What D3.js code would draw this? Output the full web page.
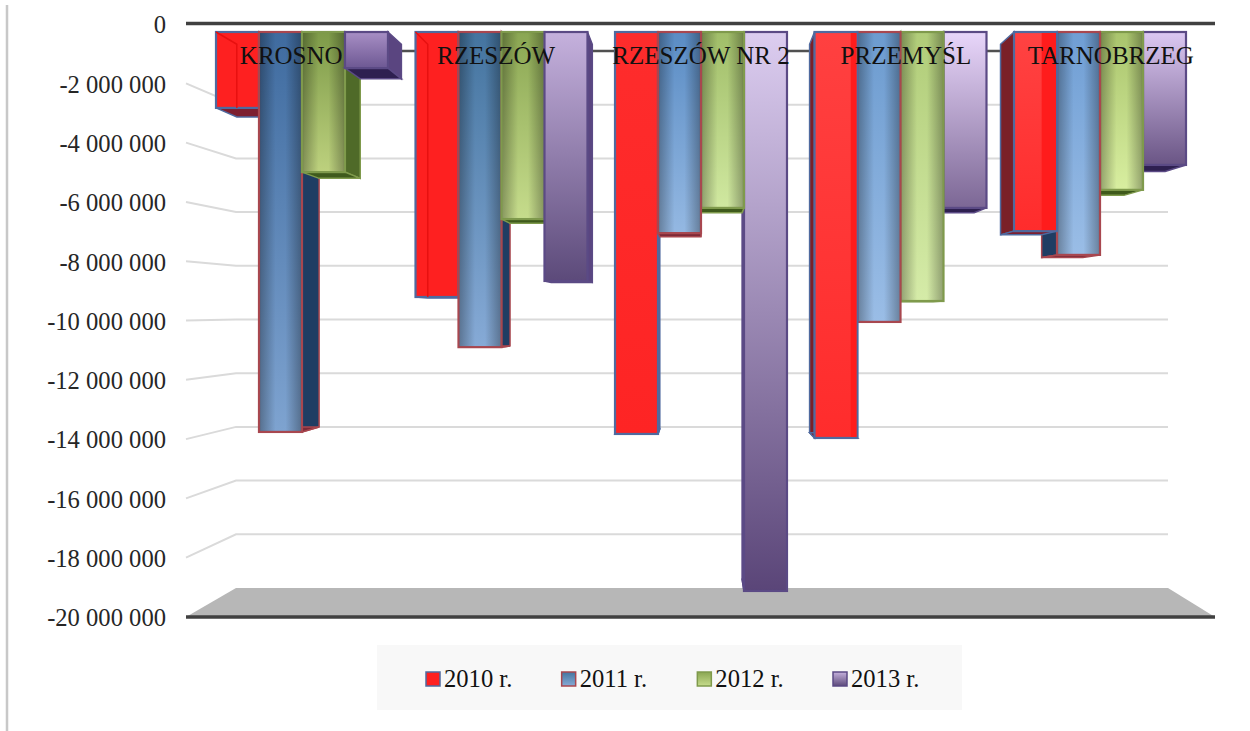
<!DOCTYPE html>
<html>
<head>
<meta charset="utf-8">
<script src="https://cdnjs.cloudflare.com/ajax/libs/d3/7.8.5/d3.min.js"></script>
<style>
  html, body { margin: 0; padding: 0; background: #fff; }
  text { font-family: "Liberation Serif", serif; }
</style>
</head>
<body>
<div id="chart"></div>
<script>
var svgWidth = 1250;
var svgHeight = 731;

// values
var categories = ["KROSNO", "RZESZÓW", "RZESZÓW NR 2", "PRZEMYŚL", "TARNOBRZEG"];
var seriesNames = ["2010 r.", "2011 r.", "2012 r.", "2013 r."];
var values2010 = [-2650000, -9250000, -14030000, -14170000, -6950000];
var values2011 = [-13960000, -11000000, -7020000, -10120000, -7780000];
var values2012 = [-4890000, -6530000, -6140000, -9390000, -5510000];
var values2013 = [-1260000, -8690000, -19510000, -6140000, -4640000];
var allValues = [values2010, values2011, values2012, values2013];
var tickValues = [0, -2000000, -4000000, -6000000, -8000000, -10000000, -12000000, -14000000, -16000000, -18000000, -20000000];

// colours per series, one entry per group, for the top and bottom of the bar
var topColors = [
  ["#fe2020", "#fe2020", "#fe2c2c", "#ff4040", "#ff4242"],
  ["#3f6b9f", "#44749f", "#5a8cc4", "#6c9bcf", "#6f9ed4"],
  ["#7d9a48", "#8aa652", "#a0bd68", "#b0cc78", "#a9c46c"],
  ["#a88fc5", "#c5b1dd", "#dccdf0", "#e8d6fa", "#dcc8f2"]
];
var bottomColors = [
  ["#fe2020", "#fe2020", "#fe2424", "#ff2c2c", "#ff2c2c"],
  ["#7ea3d0", "#86aad6", "#94b8e2", "#9abde6", "#9abde6"],
  ["#bdd17e", "#c6dc8c", "#d0e8a0", "#d5eba8", "#d8eea0"],
  ["#6d5893", "#5c4a7a", "#5a4578", "#7c6795", "#6a5585"]
];
var strokeColors = ["#4f6a9f", "#a8474f", "#7f9a4c", "#5b4a85"];
var sideColors = ["#7a2028", "#1f3d63", "#4f6a28", "#5a4580"];
var floorColors = ["#7d1f30", "#7d2a38", "#3f5a1c", "#2e2050"];

// the 3D look: everything recedes toward one vanishing point
var vanish = { x: 700, y: 318 };
var barDepth = 0.043;
function back(x, y) {
  return [x + (vanish.x - x) * barDepth, y + (vanish.y - y) * barDepth];
}

var svg = d3.select("#chart").append("svg")
  .attr("width", svgWidth)
  .attr("height", svgHeight)
  .style("display", "block");
var defs = svg.append("defs");

// front plane (labels), back wall (gridlines), bars sit in between
var yFront = d3.scaleLinear().domain([0, -20000000]).range([24, 617]);
var yBack = d3.scaleLinear().domain([0, -20000000]).range([51, 588]);
var yBar = d3.scaleLinear().domain([0, -20000000]).range([32, 605]);

var xGroup = d3.scaleBand().domain(categories).range([216, 1186]).paddingInner(0.138);
var xSeries = d3.scaleBand().domain(seriesNames).range([0, xGroup.bandwidth()]);

// frame line on the far left
svg.append("line")
  .attr("x1", 7).attr("x2", 7)
  .attr("y1", 5).attr("y2", 731)
  .attr("stroke", "#c8c8c8")
  .attr("stroke-width", 2.5);

// floor
svg.append("polygon")
  .attr("points", [[186, yFront(-20000000)], [236, yBack(-20000000)], [1168, yBack(-20000000)], [1215, yFront(-20000000)]].join(" "))
  .attr("fill", "#b7b7b7");

// gridlines, with the short run down the left wall
svg.append("g").selectAll("polyline")
  .data(tickValues.slice(1, -1))
  .enter()
  .append("polyline")
  .attr("points", d => [[186, yFront(d)], [236, yBack(d)], [1168, yBack(d)]].join(" "))
  .attr("fill", "none")
  .attr("stroke", "#dadada")
  .attr("stroke-width", 2);

// zero line on the back wall
svg.append("line")
  .attr("x1", 236).attr("x2", 1168)
  .attr("y1", yBack(0)).attr("y2", yBack(0))
  .attr("stroke", "#505050")
  .attr("stroke-width", 2.5);

svg.append("line")
  .attr("x1", 186).attr("x2", 1215)
  .attr("y1", yFront(0) - 0.5).attr("y2", yFront(0) - 0.5)
  .attr("stroke", "#404040")
  .attr("stroke-width", 3.5);
svg.append("line")
  .attr("x1", 186).attr("x2", 1215)
  .attr("y1", yFront(-20000000)).attr("y2", yFront(-20000000))
  .attr("stroke", "#404040")
  .attr("stroke-width", 3.5);

// y axis
var leftAxis = d3.axisLeft(yFront)
  .tickValues(tickValues)
  .tickSize(0)
  .tickPadding(6)
  .tickFormat(d => d3.format(",")(d).replace(/,/g, " ").replace("\u2212", "-"));

var yAxis = svg.append("g")
  .attr("transform", "translate(172, 1)")
  .call(leftAxis);
yAxis.select(".domain").remove();
yAxis.selectAll("text")
  .attr("fill", "#262626")
  .style("font-family", "'Liberation Serif', serif")
  .style("font-size", "24.6px");

// tube shading used by the blue and green bars
var tube = defs.append("linearGradient").attr("id", "tube");
tube.append("stop").attr("offset", "0%").attr("stop-color", "#000").attr("stop-opacity", 0.3);
tube.append("stop").attr("offset", "38%").attr("stop-color", "#000").attr("stop-opacity", 0);
tube.append("stop").attr("offset", "62%").attr("stop-color", "#000").attr("stop-opacity", 0);
tube.append("stop").attr("offset", "100%").attr("stop-color", "#000").attr("stop-opacity", 0.3);

// flatten the table so bars can be painted from the outside in
var bars = [];
categories.forEach(function(category, c) {
  seriesNames.forEach(function(name, s) {
    bars.push({ category: category, name: name, c: c, s: s, value: allValues[s][c] });
  });
});
bars.forEach(function(d) {
  d.x0 = xGroup(d.category) + xSeries(d.name);
  d.x1 = d.x0 + xSeries.bandwidth();
  d.y0 = yBar(0);
  d.y1 = yBar(d.value);
  d.left = (d.x0 + d.x1) / 2 < vanish.x;
  d.dist = Math.abs((d.x0 + d.x1) / 2 - vanish.x);

  var grad = defs.append("linearGradient")
    .attr("id", "bar-" + d.c + "-" + d.s)
    .attr("x1", 0).attr("x2", 0).attr("y1", 0).attr("y2", 1);
  grad.append("stop").attr("offset", "0%").attr("stop-color", topColors[d.s][d.c]);
  grad.append("stop").attr("offset", "100%").attr("stop-color", bottomColors[d.s][d.c]);
});
bars.sort((a, b) => b.dist - a.dist);

var barGroups = svg.append("g").selectAll("g")
  .data(bars)
  .enter()
  .append("g");

barGroups.each(function(d) {
  var g = d3.select(this);
  var edge = d.left ? d.x1 : d.x0;
  var bTop = back(edge, d.y0);
  var bBottom = back(edge, d.y1);
  var farBottom = back(d.left ? d.x0 : d.x1, d.y1);

  // side wall
  g.append("polygon")
    .attr("points", [[edge, d.y0], bTop, bBottom, [edge, d.y1]].join(" "))
    .attr("fill", sideColors[d.s])
    .attr("stroke", strokeColors[d.s])
    .attr("stroke-width", 1.5);

  // underside
  g.append("polygon")
    .attr("points", [[d.x0, d.y1], [d.x1, d.y1], d.left ? bBottom : farBottom, d.left ? farBottom : bBottom].join(" "))
    .attr("fill", floorColors[d.s])
    .attr("stroke", strokeColors[d.s])
    .attr("stroke-width", 1.5);

  // front face
  g.append("rect")
    .attr("x", d.x0)
    .attr("y", d.y0)
    .attr("width", d.x1 - d.x0)
    .attr("height", d.y1 - d.y0)
    .attr("fill", "url(#bar-" + d.c + "-" + d.s + ")")
    .attr("stroke", strokeColors[d.s])
    .attr("stroke-width", 2.2);

  if (d.s === 1 || d.s === 2) {
    g.append("rect")
      .attr("x", d.x0 + 1)
      .attr("y", d.y0 + 1)
      .attr("width", d.x1 - d.x0 - 2)
      .attr("height", d.y1 - d.y0 - 2)
      .attr("fill", "url(#tube)");
  }

  // the red bars are see-through enough to show their inner edge
  if (d.s === 0 && d.c < 2) {
    var inner = back(d.x0, d.y0);
    var innerBottom = back(d.x0, d.y1);
    g.append("polyline")
      .attr("points", [[d.x0, d.y0], inner, [inner[0], Math.min(innerBottom[1], d.y1)]].join(" "))
      .attr("fill", "none")
      .attr("stroke", "#e81010")
      .attr("stroke-width", 1.5);
  }
  if (d.s === 0 && d.c > 2) {
    var stripX = back(d.x1, d.y0)[0];
    g.append("rect")
      .attr("x", stripX)
      .attr("y", d.y0 + 1)
      .attr("width", d.x1 - stripX - 1)
      .attr("height", d.y1 - d.y0 - 2)
      .attr("fill", "#ff1c1c");
  }
});

// category names sit on a plane slightly in front of the bars
svg.append("g").selectAll("text")
  .data(categories)
  .enter()
  .append("text")
  .attr("x", d => {
    var c = xGroup(d) + xGroup.bandwidth() / 2;
    return vanish.x + (c - vanish.x) * 1.027;
  })
  .attr("y", 64)
  .attr("text-anchor", "middle")
  .attr("fill", "#111")
  .style("font-size", "25px")
  .text(d => d);

// legend
svg.append("rect")
  .attr("x", 377).attr("y", 645)
  .attr("width", 585).attr("height", 65)
  .attr("fill", "#f8f8f8");

var legendX = d3.scalePoint().domain(seriesNames).range([426, 833]);
var legend = svg.append("g").selectAll("g")
  .data(seriesNames)
  .enter()
  .append("g")
  .attr("transform", d => `translate(${legendX(d)}, 672)`);

legend.append("rect")
  .attr("width", 14)
  .attr("height", 14)
  .attr("fill", (d, i) => "url(#bar-1-" + i + ")")
  .attr("stroke", (d, i) => strokeColors[i])
  .attr("stroke-width", 1.5);

legend.append("text")
  .attr("x", 18)
  .attr("y", 15)
  .attr("fill", "#111")
  .style("font-size", "24.6px")
  .text(d => d);
</script>
</body>
</html>
